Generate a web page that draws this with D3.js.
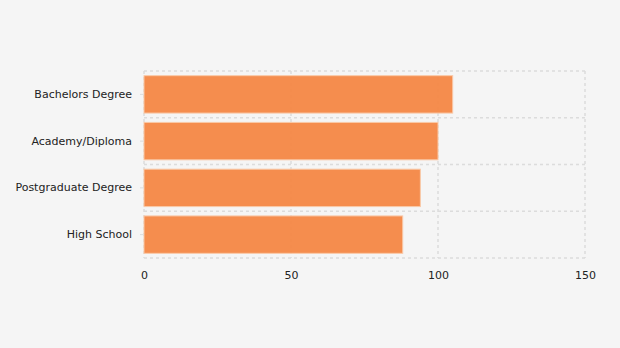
<!DOCTYPE html>
<html>
<head>
<meta charset="utf-8">
<script src="https://cdn.jsdelivr.net/npm/d3@7"></script>
<style>
  html, body { margin: 0; padding: 0; background: #f5f5f5; }
  svg { display: block; }
  text { font-family: "DejaVu Sans", Verdana, sans-serif; font-size: 11px; fill: #222; }
</style>
</head>
<body>
<div id="chart"></div>
<script>
// données
var categories = ["Bachelors Degree", "Academy/Diploma", "Postgraduate Degree", "High School"];
var values = [105, 100, 94, 88];
var xTicks = [0, 50, 100, 150];

var margin = {top: 71, right: 35, bottom: 90, left: 144},
    width = 620 - margin.left - margin.right,
    height = 348 - margin.top - margin.bottom;

var svg = d3.select("#chart")
  .append("svg")
    .attr("width", 620)
    .attr("height", 348)
  .append("g")
    .attr("transform", "translate(" + margin.left + "," + margin.top + ")");

var x = d3.scaleLinear()
  .domain([0, 150])
  .range([0, width]);

var y = d3.scaleBand()
  .domain(categories)
  .range([0, height])
  .paddingInner(0.2)
  .paddingOuter(0.1);

// grille horizontale (bordures des bandes)
var bounds = d3.range(categories.length + 1).map(function(i) { return i * height / categories.length; });
svg.selectAll(".hgrid")
  .data(bounds)
  .enter().append("line")
    .attr("x1", 0).attr("x2", width)
    .attr("y1", function(d) { return d; })
    .attr("y2", function(d) { return d; })
    .attr("stroke", "#dcdcdc")
    .attr("stroke-width", 1.5)
    .attr("stroke-dasharray", "3,3");

// grille verticale
svg.selectAll(".vgrid")
  .data(xTicks)
  .enter().append("line")
    .attr("x1", function(d) { return x(d); })
    .attr("x2", function(d) { return x(d); })
    .attr("y1", 0).attr("y2", height)
    .attr("stroke", "#dcdcdc")
    .attr("stroke-width", 1.5)
    .attr("stroke-dasharray", "3,3");

// barres
svg.selectAll(".bar")
  .data(values)
  .enter().append("rect")
    .attr("x", x(0))
    .attr("y", function(d, i) { return y(categories[i]); })
    .attr("width", function(d) { return x(d) - x(0); })
    .attr("height", y.bandwidth())
    .attr("fill", "#f48745")
    .attr("fill-opacity", 0.95)
    .attr("stroke", "#f9c9a8")
    .attr("stroke-width", 1);

// axe Y
var yAxis = svg.append("g")
  .call(d3.axisLeft(y).tickSize(4).tickPadding(8));
yAxis.select(".domain").remove();
yAxis.selectAll(".tick line").attr("stroke", "#dcdcdc");
yAxis.selectAll("text").style("font-size", "11px").attr("fill", "#222");

// axe X
var xAxis = svg.append("g")
  .attr("transform", "translate(0," + height + ")")
  .call(d3.axisBottom(x).tickValues(xTicks).tickSize(0).tickPadding(13));
xAxis.select(".domain").remove();
xAxis.selectAll("text").style("font-size", "11px").attr("fill", "#222");
</script>
</body>
</html>
